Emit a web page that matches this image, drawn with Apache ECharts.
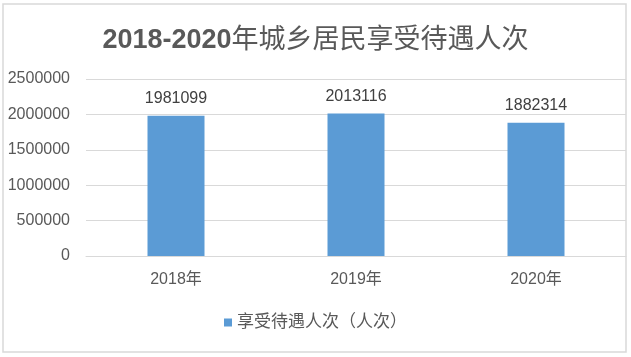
<!DOCTYPE html>
<html><head><meta charset="utf-8">
<script src="https://cdn.jsdelivr.net/npm/echarts@6/dist/echarts.min.js"></script>
<style>html,body{margin:0;padding:0;background:#fff}#c{width:631px;height:357px}</style>
</head><body><div id="c"></div>
<script>
var categories = ['2018年', '2019年', '2020年'];
var values = [1981099, 2013116, 1882314];
var seriesName = '享受待遇人次（人次）';
var titleYears = '2018-2020';
var titleRest = '年城乡居民享受待遇人次';

var font = '"Liberation Sans","Noto Sans CJK SC",sans-serif';
var chart = echarts.init(document.getElementById('c'));
chart.setOption({
  animation: false,
  backgroundColor: '#fff',
  graphic: [{
    type: 'rect', shape: {x: 3, y: 4, width: 623, height: 348},
    style: {fill: 'none', stroke: '#d9d9d9', lineWidth: 1.5}, silent: true
  }],
  title: {
    text: '{a|' + titleYears + '}{b|' + titleRest + '}',
    left: 'center', top: 22,
    textStyle: {
      rich: {
        a: {fontSize: 27, fontWeight: 'bold', color: '#595959', fontFamily: font},
        b: {fontSize: 27, fontWeight: 'normal', color: '#595959', fontFamily: font}
      }
    }
  },
  legend: {
    bottom: 21, left: 'center',
    itemWidth: 8, itemHeight: 8, itemGap: 6,
    icon: 'rect',
    textStyle: {fontSize: 17, color: '#595959', fontFamily: font},
    data: [seriesName]
  },
  grid: {left: 86, right: 5, top: 79, bottom: 101},
  xAxis: {
    type: 'category', data: categories,
    axisLine: {lineStyle: {color: '#d9d9d9', width: 1}},
    axisTick: {show: false},
    axisLabel: {fontSize: 16, color: '#595959', margin: 16, fontFamily: font}
  },
  yAxis: {
    type: 'value', min: 0, max: 2500000, interval: 500000,
    axisLine: {show: false}, axisTick: {show: false},
    splitLine: {lineStyle: {color: '#d9d9d9', width: 1}},
    axisLabel: {fontSize: 16, color: '#595959', margin: 16, fontFamily: font,
      formatter: function (v) { return String(v); }}
  },
  series: [{
    name: seriesName, type: 'bar', data: values,
    barWidth: 57,
    itemStyle: {color: '#5b9bd5'},
    label: {show: true, position: 'top', distance: 9, fontSize: 16, color: '#404040', fontFamily: font}
  }]
});
</script></body></html>
